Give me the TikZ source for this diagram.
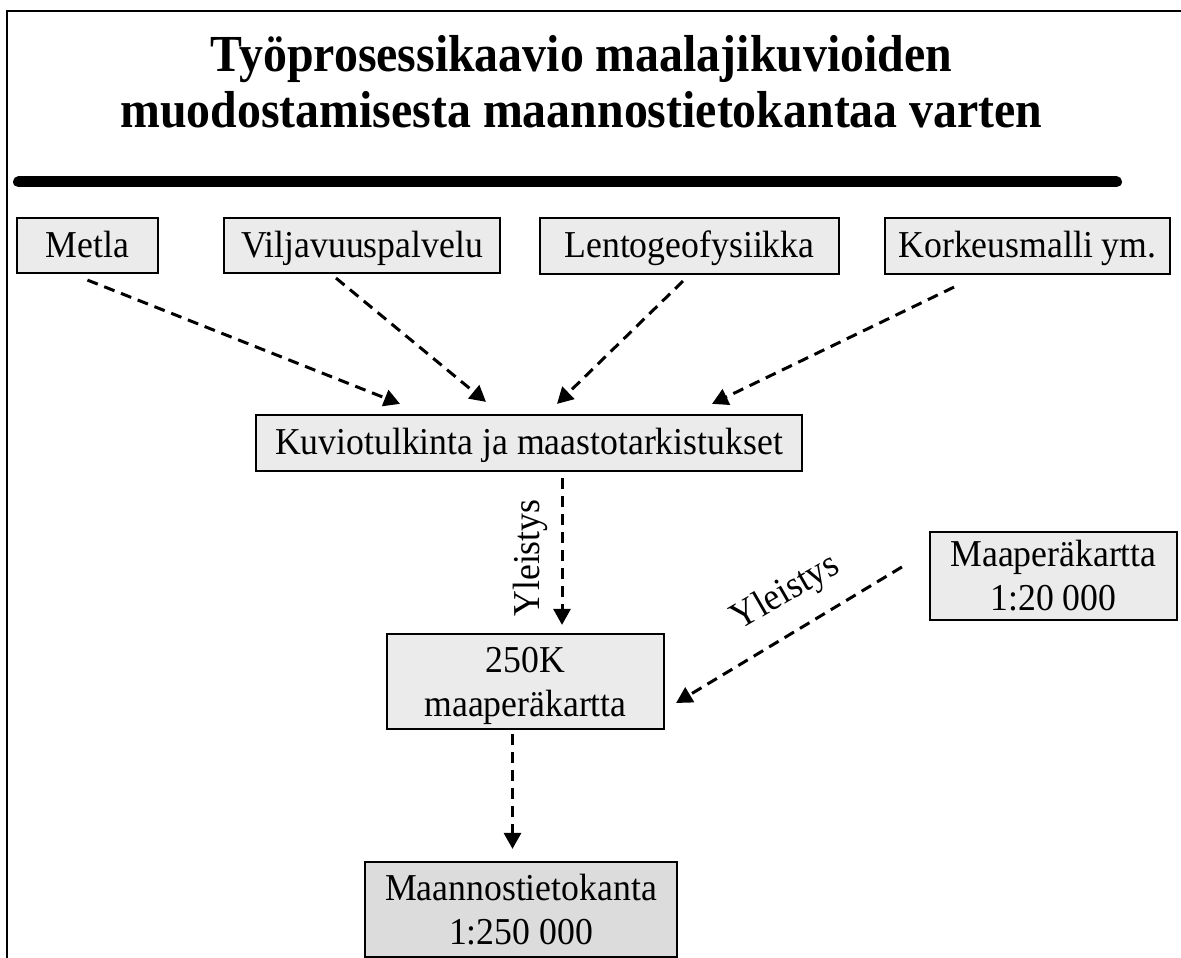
\documentclass[tikz,border=0pt]{standalone}
\usepackage{fontspec}
\setmainfont{Liberation Serif}
\newfontfamily\boxfont{Liberation Serif}[FakeStretch=0.94]
\newfontfamily\ttlfont{Liberation Serif}[FakeStretch=0.92]
\usetikzlibrary{arrows.meta,calc}
\definecolor{boxgray}{RGB}{235,235,235}
\definecolor{dbgray}{RGB}{220,220,220}
\begin{document}
\begin{tikzpicture}[x=1pt,y=1pt,
  box/.style={draw=black, line width=2.2pt, fill=boxgray, font=\boxfont\fontsize{38}{44}\selectfont, inner sep=0pt},
  one/.style={box, text height=24pt, text depth=0pt},
  two/.style={box, align=center},
  conn/.style={line width=3pt, dash pattern=on 11pt off 7pt, -{Triangle[length=16pt,width=17pt]}},
  lbl/.style={font=\boxfont\fontsize{38}{44}\selectfont, inner sep=0pt},
  ttl/.style={font=\ttlfont\bfseries\fontsize{52}{56}\selectfont, anchor=base, inner sep=0pt}]
\useasboundingbox (0,0) rectangle (1181,958);
\draw[line width=2pt] (7,0) -- (7,947) -- (1181,947);
\node[ttl] (title1) at (581.5,886) {Työprosessikaavio maalajikuvioiden};
\node[ttl] (title2) at (581.5,830) {muodostamisesta maannostietokantaa varten};
\draw[line width=11pt, line cap=round] (18.5,776) -- (1116.5,776);

\node[one, minimum width=141pt, minimum height=55pt] (metla) at (87.5,712.5) {Metla};
\node[one, minimum width=276pt, minimum height=55pt] (vilja) at (362,712.5) {Viljavuuspalvelu};
\node[one, minimum width=299pt, minimum height=56pt] (lento) at (689.5,712) {Lentogeofysiikka};
\node[one, minimum width=285pt, minimum height=56pt] (kork) at (1027.5,712) {Korkeusmalli ym.};
\node[one, minimum width=546pt, minimum height=56pt] (kuvio) at (529,515) {Kuviotulkinta ja maastotarkistukset};
\node[two, text depth=0pt, minimum width=277pt, minimum height=95pt] (k250) at (525.5,276.5) {250K\\maaperäkartta};
\node[two, minimum width=247pt, minimum height=88pt] (m20) at (1053.5,382) {Maaperäkartta\\1:20 000};
\node[two, fill=dbgray, minimum width=312pt, minimum height=95pt] (maan) at (521,48.5) {Maannostietokanta\\1:250 000};

\draw[conn] ([yshift=-6pt]metla.south) -- ([xshift=-129pt,yshift=10pt]kuvio.north);
\draw[conn] ([xshift=-26pt,yshift=-4pt]vilja.south) -- ([xshift=-43pt,yshift=12pt]kuvio.north);
\draw[conn] ([xshift=-6.5pt,yshift=-6pt]lento.south) -- ([xshift=28pt,yshift=10pt]kuvio.north);
\draw[conn] ([xshift=-73.5pt,yshift=-12pt]kork.south) -- ([xshift=183pt,yshift=10pt]kuvio.north);
\draw[conn] ([xshift=33pt,yshift=-6pt]kuvio.south) -- ([xshift=36.5pt,yshift=8pt]k250.north);
\draw[conn] ([xshift=-27pt,yshift=9pt]m20.west) -- ([xshift=11pt,yshift=-21.5pt]k250.east);
\draw[conn] ([xshift=-13pt,yshift=-4pt]k250.south) -- ([xshift=-8.5pt,yshift=12pt]maan.north);

\node[lbl, rotate=90] (yl1) at (530,400) {Yleistys};
\node[lbl, rotate=30] (yl2) at (786,365) {Yleistys};
\end{tikzpicture}
\end{document}
